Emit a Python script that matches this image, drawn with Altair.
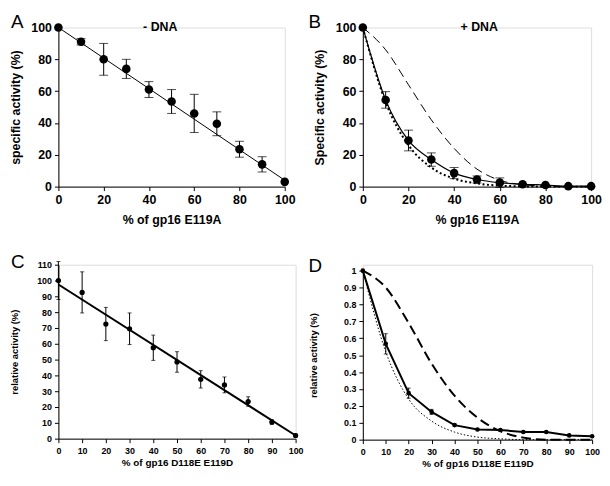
import altair as alt
import pandas as pd

pct = [0, 10, 20, 30, 40, 50, 60, 70, 80, 90, 100]

# Panel A (- DNA)
a_val = [100, 91, 80, 74, 61, 53.5, 46, 39.5, 23.5, 14, 3]
a_err = [0, 2, 10, 6, 5, 7.5, 12, 7.5, 5, 4.8, 0]
a_fit_x = [0, 100]
a_fit_y = [100, 4]

# Panel B (+ DNA)
b_val = [100, 54.5, 29, 17, 8.5, 4.5, 2.5, 1.5, 1, 0.3, 0.3]
b_err = [0, 5.2, 6.5, 4.2, 3.5, 2.2, 3, 0.5, 0.3, 0, 0]
b_dotted = [100, 53, 26, 12, 5, 2, 0.6, 0.2, 0, 0, 0]
b_dashed = [100, 86, 64, 42, 24, 11, 4, 1.2, 0.3, 0, 0]

# Panel C
c_val = [100, 92.5, 72.5, 69.5, 57.5, 48.5, 37.5, 34, 23.5, 10.5, 2]
c_err = [12, 13, 10.5, 10, 8, 6.5, 5.5, 5, 3, 1.5, 1]
c_fit_x = [0, 100]
c_fit_y = [97.5, 2]

# Panel D
d_val = [1, 0.567, 0.275, 0.164, 0.086, 0.06, 0.057, 0.045, 0.045, 0.025, 0.02]
d_err = [0, 0.06, 0.03, 0.015, 0.006, 0, 0, 0, 0, 0, 0]
d_dashed = [1, 0.9, 0.69, 0.45, 0.26, 0.13, 0.05, 0.012, 0, 0, 0]
d_dotted = [1, 0.52, 0.24, 0.11, 0.045, 0.015, 0.005, 0, 0, 0, 0]

ann_a = {"x": [45], "y": [100], "t": ["- DNA"]}
ann_b = {"x": [51], "y": [100], "t": ["+ DNA"]}

FONT = "Liberation Sans"


def pts(vals, errs):
    return pd.DataFrame({
        "x": pct, "y": vals,
        "lo": [v - e for v, e in zip(vals, errs)],
        "hi": [v + e for v, e in zip(vals, errs)],
        "e": errs,
    })


def enc(xtitle, ytitle, ydomain, xticks, yticks, big, ytp, yfmt=None, yrange=None):
    lab = 12.5 if big else 9
    tit = 12.5 if big else 10
    xaxis = alt.Axis(title=xtitle, values=xticks, grid=False, domainColor="black",
                     tickColor="black", tickSize=4, labelFont=FONT, labelFontSize=lab,
                     labelFontWeight="bold", labelColor="black", titleFont=FONT,
                     titleFontSize=tit, titleFontWeight="bold", titleColor="black",
                     labelPadding=3 if big else 4, titlePadding=8 if big else 2,
                     labelFlush=False)
    yargs = dict(title=ytitle, values=yticks, grid=False, domainColor="black",
                 tickColor="black", tickSize=4, labelFont=FONT, labelFontSize=lab,
                 labelFontWeight="bold", labelColor="black", titleFont=FONT,
                 titleFontSize=tit if big else 9.5, titleFontWeight="bold", titleColor="black",
                 labelPadding=3, titlePadding=ytp, labelFlush=False)
    if yfmt:
        yargs["format"] = yfmt
    yaxis = alt.Axis(**yargs)
    xs = alt.Scale(domain=[0, 100], nice=False, zero=False)
    if yrange:
        ys = alt.Scale(domain=ydomain, nice=False, zero=False, range=yrange)
    else:
        ys = alt.Scale(domain=ydomain, nice=False, zero=False)

    def X(f="x"):
        return alt.X(f, type="quantitative", scale=xs, axis=xaxis)

    def Y(f="y"):
        return alt.Y(f, type="quantitative", scale=ys, axis=yaxis)
    return X, Y


def errlayers(df, X, Y, capw, pt_size):
    base = alt.Chart(df)
    eb = base.transform_filter("datum.e > 0")
    rule = eb.mark_rule(color="black", strokeWidth=1).encode(x=X(), y=Y("lo"), y2="hi")
    t1 = eb.mark_tick(color="black", orient="horizontal", size=capw, thickness=1).encode(x=X(), y=Y("lo"))
    t2 = eb.mark_tick(color="black", orient="horizontal", size=capw, thickness=1).encode(x=X(), y=Y("hi"))
    p = base.mark_circle(color="black", opacity=1, size=pt_size).encode(x=X(), y=Y())
    return [rule, t1, t2, p]


def letter(t, dx, dy):
    return alt.TitleParams(t, anchor="start", frame="group", dx=dx, dy=dy, offset=4,
                           font=FONT, fontSize=19, fontWeight="normal", color="black")


# ---- A ----
XA, YA = enc("% of gp16 E119A", "specific activity (%)", [0, 100],
             [0, 20, 40, 60, 80, 100], [0, 20, 40, 60, 80, 100], True, 9)
fitA = alt.Chart(pd.DataFrame({"x": a_fit_x, "y": a_fit_y})).mark_line(
    color="black", strokeWidth=1).encode(x=XA(), y=YA())
txtA = alt.Chart(pd.DataFrame(ann_a)).mark_text(
    font=FONT, fontSize=12.5, fontWeight="bold", color="black", align="center").encode(
    x=XA(), y=YA(), text="t:N")
chartA = alt.layer(fitA, *errlayers(pts(a_val, a_err), XA, YA, 9, 75), txtA).properties(
    width=229, height=161, title=letter("A", -48, 15))

# ---- B ----
XB, YB = enc("% gp16 E119A", "Specific activity (%)", [0, 100],
             [0, 20, 40, 60, 80, 100], [0, 20, 40, 60, 80, 100], True, 9)
dfB = pd.DataFrame({"x": pct * 3,
                    "y": b_val + b_dotted + b_dashed,
                    "s": ["fit"] * 11 + ["dotted"] * 11 + ["dashed"] * 11})
lineB_fit = alt.Chart(dfB).transform_filter("datum.s == 'fit'").mark_line(
    color="black", strokeWidth=1.2, interpolate="monotone").encode(x=XB(), y=YB())
lineB_dot = alt.Chart(dfB).transform_filter("datum.s == 'dotted'").mark_line(
    color="black", strokeWidth=2, strokeDash=[2, 2.5], interpolate="monotone").encode(x=XB(), y=YB())
lineB_dash = alt.Chart(dfB).transform_filter("datum.s == 'dashed'").mark_line(
    color="black", strokeWidth=1, strokeDash=[9, 5], interpolate="monotone").encode(x=XB(), y=YB())
txtB = alt.Chart(pd.DataFrame(ann_b)).mark_text(
    font=FONT, fontSize=12.5, fontWeight="bold", color="black", align="center").encode(
    x=XB(), y=YB(), text="t:N")
chartB = alt.layer(lineB_dash, lineB_dot, lineB_fit, *errlayers(pts(b_val, b_err), XB, YB, 9, 75), txtB).properties(
    width=231, height=161, title=letter("B", -55, 15))

# ---- C ----
XC, YC = enc("% of gp16 D118E E119D", "relative activity (%)", [0, 110],
             pct, [0, 10, 20, 30, 40, 50, 60, 70, 80, 90, 100, 110], False, 17)
fitC = alt.Chart(pd.DataFrame({"x": c_fit_x, "y": c_fit_y})).mark_line(
    color="black", strokeWidth=2).encode(x=XC(), y=YC())
chartC = alt.layer(fitC, *errlayers(pts(c_val, c_err), XC, YC, 4, 28)).properties(
    width=240, height=176, title=letter("C", -48, 15))

# ---- D ----
XD, YD = enc("% of gp16 D118E E119D", "relative activity (%)", [0, 1],
             pct, [0, 0.1, 0.2, 0.3, 0.4, 0.5, 0.6, 0.7, 0.8, 0.9, 1], False, 25, yfmt="~g",
             yrange=[177, 6])
dfD = pd.DataFrame({"x": pct * 3,
                    "y": d_val + d_dotted + d_dashed,
                    "s": ["data"] * 11 + ["dotted"] * 11 + ["dashed"] * 11})
lineD = alt.Chart(dfD).transform_filter("datum.s == 'data'").mark_line(
    color="black", strokeWidth=2).encode(x=XD(), y=YD())
lineD_dot = alt.Chart(dfD).transform_filter("datum.s == 'dotted'").mark_line(
    color="black", strokeWidth=1, strokeDash=[1.5, 2], interpolate="monotone").encode(x=XD(), y=YD())
lineD_dash = alt.Chart(dfD).transform_filter("datum.s == 'dashed'").mark_line(
    color="black", strokeWidth=2, strokeDash=[10, 5], interpolate="monotone").encode(x=XD(), y=YD())
chartD = alt.layer(lineD_dash, lineD_dot, lineD, *errlayers(pts(d_val, d_err), XD, YD, 4, 22)).properties(
    width=232, height=177, title=letter("D", -55, 15))

chart = alt.concat(chartA, chartB, chartC, chartD, columns=2,
                   spacing={"row": 79, "column": 68}, bounds="flush", align="each").properties(
    padding={"left": 0, "top": 2, "right": 0, "bottom": 0}
).configure_view(stroke=None).configure(background="white")

chart.save("out.html", embed_options={"renderer": "svg", "actions": False})
